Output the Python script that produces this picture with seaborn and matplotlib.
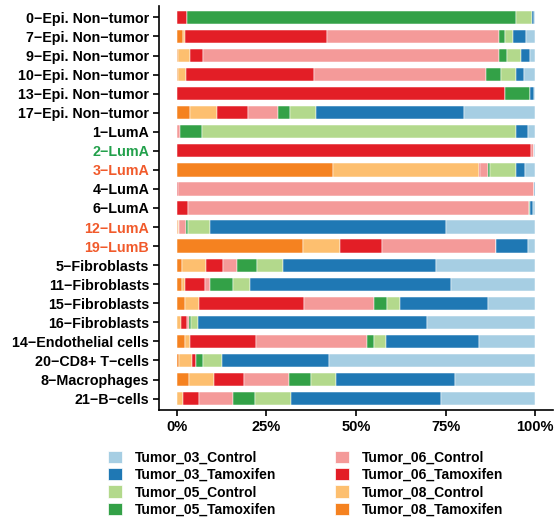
import matplotlib
matplotlib.use("Agg")
import matplotlib.pyplot as plt
from matplotlib.patches import Patch
import numpy as np
import pandas as pd
import seaborn as sns

# Clusters, top to bottom
clusters = [
    "0−Epi. Non−tumor", "7−Epi. Non−tumor", "9−Epi. Non−tumor", "10−Epi. Non−tumor",
    "13−Epi. Non−tumor", "17−Epi. Non−tumor", "1−LumA", "2−LumA", "3−LumA", "4−LumA",
    "6−LumA", "12−LumA", "19−LumB", "5−Fibroblasts", "11−Fibroblasts", "15−Fibroblasts",
    "16−Fibroblasts", "14−Endothelial cells", "20−CD8+ T−cells", "8−Macrophages",
    "21−B−cells",
]

# Share of cells (%) per sample in each cluster
tumor_08_tamoxifen = [0.0, 1.8, 0.2, 0.2, 0.0, 3.6, 0.0, 0.0, 43.7, 0.0, 0.0, 0.3, 35.1,
                      1.4, 1.3, 2.2, 0.0, 2.2, 0.6, 3.3, 0.0]
tumor_08_control = [0.0, 0.5, 3.5, 2.4, 0.0, 7.7, 0.0, 0.0, 40.6, 0.0, 0.0, 0.4, 10.5,
                    6.6, 0.9, 4.1, 1.2, 1.4, 3.6, 7.0, 1.6]
tumor_06_tamoxifen = [2.7, 39.5, 3.6, 35.6, 91.5, 8.6, 0.0, 98.8, 0.3, 0.2, 3.2, 0.0, 11.8,
                      4.9, 5.6, 29.2, 1.5, 18.6, 1.1, 8.4, 4.7]
tumor_06_control = [0.0, 48.1, 82.5, 48.1, 0.2, 8.2, 0.8, 0.9, 2.3, 99.4, 95.2, 1.7, 31.7,
                    3.8, 1.4, 19.6, 0.8, 30.8, 0.0, 12.7, 9.4]
tumor_05_tamoxifen = [92.0, 1.7, 2.3, 4.0, 6.8, 3.5, 6.2, 0.0, 0.4, 0.0, 0.2, 0.7, 0.0,
                      5.7, 6.4, 3.6, 0.4, 2.0, 1.9, 6.2, 6.2]
tumor_05_control = [4.4, 2.2, 3.9, 4.2, 0.0, 7.3, 87.6, 0.0, 7.5, 0.0, 0.0, 6.1, 0.0,
                    7.3, 4.9, 3.5, 2.1, 3.4, 5.4, 6.9, 10.1]
tumor_03_tamoxifen = [0.6, 3.7, 2.4, 2.4, 1.3, 41.2, 3.5, 0.1, 2.3, 0.4, 0.9, 66.0, 8.9,
                      42.5, 55.9, 24.6, 63.7, 25.9, 29.8, 33.3, 41.9]
tumor_03_control = [0.3, 2.4, 1.5, 3.0, 0.2, 19.8, 1.9, 0.2, 2.9, 0.0, 0.5, 24.8, 2.1,
                    27.7, 23.6, 13.2, 30.3, 15.8, 57.6, 22.3, 26.2]

# Stacking order, left to right
samples = [
    ("Tumor_08_Tamoxifen", tumor_08_tamoxifen, "#F58220"),
    ("Tumor_08_Control", tumor_08_control, "#FDBF6F"),
    ("Tumor_06_Tamoxifen", tumor_06_tamoxifen, "#E31E26"),
    ("Tumor_06_Control", tumor_06_control, "#F49A99"),
    ("Tumor_05_Tamoxifen", tumor_05_tamoxifen, "#33A147"),
    ("Tumor_05_Control", tumor_05_control, "#B3D98C"),
    ("Tumor_03_Tamoxifen", tumor_03_tamoxifen, "#1F78B4"),
    ("Tumor_03_Control", tumor_03_control, "#A6CEE3"),
]

# Legend order (column-wise)
legend_order = [
    "Tumor_03_Control", "Tumor_03_Tamoxifen", "Tumor_05_Control", "Tumor_05_Tamoxifen",
    "Tumor_06_Control", "Tumor_06_Tamoxifen", "Tumor_08_Control", "Tumor_08_Tamoxifen",
]

x_ticks = [0, 25, 50, 75, 100]
x_tick_labels = ["0%", "25%", "50%", "75%", "100%"]

label_colors = {
    "2−LumA": "#22A04B",
    "3−LumA": "#F15A2B",
    "12−LumA": "#F15A2B",
    "19−LumB": "#F15A2B",
}

sns.set_theme(style="white")
plt.rcParams["font.family"] = ["Liberation Sans", "DejaVu Sans"]
plt.rcParams["font.weight"] = "bold"
plt.rcParams["text.color"] = "black"

# Normalise each cluster to 100%
mat = np.array([s[1] for s in samples], dtype=float)
mat = mat / mat.sum(axis=0, keepdims=True) * 100.0
left = np.zeros(len(clusters))

fig = plt.figure(figsize=(5.54, 5.23), dpi=100)
ax = fig.add_axes([159 / 554, 1 - 410 / 523, 394 / 554, 404 / 523])

for (name, _, color), vals in zip(samples, mat):
    df = pd.DataFrame({"cluster": clusters, "pct": vals})
    sns.barplot(data=df, x="pct", y="cluster", order=clusters, orient="h",
                color=color, width=0.7, left=left, edgecolor="white",
                linewidth=0.35, errorbar=None, ax=ax, saturation=1)
    left = left + vals

ax.set_xlim(-5, 105)
ax.set_ylim(len(clusters) - 0.4, -0.6)
ax.set_xticks(x_ticks)
ax.set_xticklabels(x_tick_labels, fontsize=10.5, fontweight="bold", color="black")
ax.set_xlabel("")
ax.set_ylabel("")
for lab in ax.get_yticklabels():
    lab.set_fontsize(10.3)
    lab.set_fontweight("bold")
    lab.set_color(label_colors.get(lab.get_text(), "black"))

for side in ["top", "right"]:
    ax.spines[side].set_visible(False)
for side in ["left", "bottom"]:
    ax.spines[side].set_color("black")
    ax.spines[side].set_linewidth(1.2)
ax.tick_params(axis="both", which="major", length=4, width=1.2, color="black",
               bottom=True, left=True, pad=3)

colors = {s[0]: s[2] for s in samples}
handles = [Patch(facecolor=colors[n], edgecolor="white", linewidth=0.5, label=n)
           for n in legend_order]
leg = fig.legend(handles=handles, ncol=2, loc="upper left",
                 bbox_to_anchor=(108 / 554, 1 - 450.5 / 523), frameon=False,
                 prop={"size": 10, "weight": "bold"}, handlelength=1.0, handleheight=1.0,
                 handletextpad=0.9, labelspacing=0.25, columnspacing=4.3, borderpad=0,
                 borderaxespad=0)
for t in leg.get_texts():
    t.set_color("black")

fig.savefig("out.png", dpi=100)
